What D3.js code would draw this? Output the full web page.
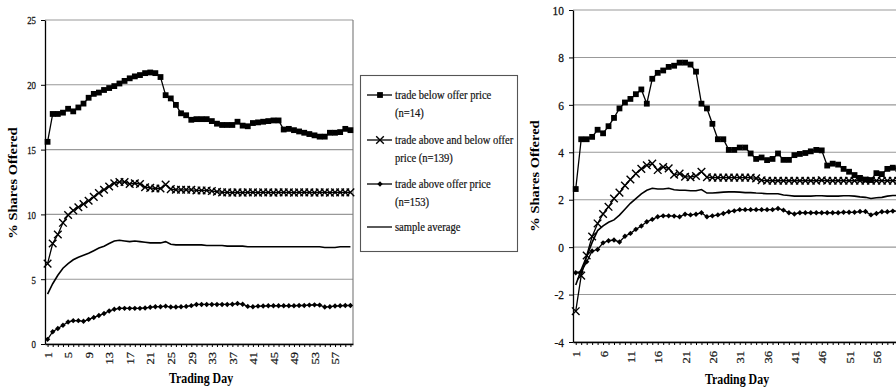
<!DOCTYPE html>
<html><head><meta charset="utf-8">
<script src="https://cdn.jsdelivr.net/npm/d3@7"></script>
<style>
html,body{margin:0;padding:0;background:#fff;}
svg{display:block;font-family:"Liberation Serif","Times New Roman",serif;}
</style></head><body>
<svg id="c" width="896" height="389"></svg>
<script>
const days = [1,2,3,4,5,6,7,8,9,10,11,12,13,14,15,16,17,18,19,20,21,22,23,24,25,26,27,28,29,30,
  31,32,33,34,35,36,37,38,39,40,41,42,43,44,45,46,47,48,49,50,51,52,53,54,55,56,57,58,59,60];
const leftXTicks = [1,5,9,13,17,21,25,29,33,37,41,45,49,53,57];
const rightXTicks = [1,6,11,16,21,26,31,36,41,46,51,56];
const leftYTicks = [0,5,10,15,20,25];
const rightYTicks = [-4,-2,0,2,4,6,8,10];

const leftBelow = [15.6,17.75,17.75,17.85,18.15,17.95,18.25,18.55,19.0,19.3,
  19.4,19.6,19.75,19.9,20.1,20.3,20.5,20.65,20.75,20.9,
  20.95,20.9,20.6,19.2,18.95,18.45,17.8,17.65,17.3,17.35,
  17.35,17.35,17.2,17.0,16.9,16.9,16.9,17.15,16.85,16.8,
  17.05,17.1,17.15,17.2,17.25,17.25,16.55,16.6,16.5,16.4,
  16.3,16.2,16.1,16.0,16.0,16.3,16.3,16.35,16.6,16.5];
const leftBoth = [6.2,7.75,8.45,9.35,9.95,10.3,10.55,10.8,11.05,11.35,
  11.65,11.9,12.15,12.4,12.5,12.5,12.35,12.4,12.35,12.1,
  12.05,12.0,12.0,12.3,11.95,11.9,11.9,11.9,11.9,11.85,
  11.85,11.85,11.8,11.75,11.7,11.7,11.68,11.7,11.68,11.7,
  11.7,11.68,11.7,11.7,11.68,11.7,11.7,11.7,11.68,11.7,
  11.7,11.7,11.68,11.7,11.7,11.68,11.7,11.7,11.7,11.7];
const leftAbove = [0.36,0.95,1.2,1.45,1.7,1.8,1.8,1.75,1.9,2.05,
  2.2,2.35,2.55,2.68,2.75,2.75,2.75,2.75,2.75,2.78,
  2.83,2.88,2.88,2.92,2.85,2.85,2.88,2.9,2.96,3.05,
  3.05,3.05,3.05,3.05,3.05,3.05,3.07,3.12,3.07,2.9,
  2.88,2.92,2.93,2.95,2.95,2.95,2.95,2.95,2.95,2.97,
  2.97,3.0,3.02,3.0,2.85,2.88,2.93,2.95,2.97,2.97];
const leftAvg = [3.85,4.65,5.3,5.85,6.2,6.5,6.7,6.85,7.0,7.2,
  7.4,7.55,7.75,7.95,8.0,7.95,7.9,7.95,7.9,7.85,
  7.8,7.8,7.8,7.9,7.7,7.65,7.65,7.65,7.65,7.65,
  7.65,7.6,7.6,7.6,7.6,7.55,7.55,7.55,7.55,7.5,
  7.5,7.5,7.5,7.5,7.5,7.5,7.5,7.5,7.5,7.5,
  7.5,7.5,7.5,7.5,7.45,7.45,7.45,7.5,7.5,7.5];

const rightBelow = [2.45,4.55,4.55,4.65,4.95,4.8,5.1,5.45,5.85,6.1,
  6.25,6.45,6.65,6.05,7.1,7.35,7.45,7.6,7.65,7.78,
  7.78,7.7,7.4,6.05,5.85,5.2,4.55,4.55,4.1,4.1,
  4.2,4.2,3.95,3.72,3.78,3.67,3.72,3.95,3.68,3.68,
  3.88,3.93,3.97,4.04,4.1,4.08,3.44,3.52,3.48,3.3,
  3.18,3.04,2.92,2.85,2.83,3.12,3.08,3.3,3.35,3.3];
const rightBoth = [-2.7,-1.2,-0.35,0.45,1.0,1.4,1.7,2.05,2.3,2.6,
  2.85,3.1,3.3,3.45,3.52,3.25,3.38,3.32,3.05,3.1,
  2.97,2.95,3.0,3.18,2.95,2.93,2.93,2.93,2.93,2.93,
  2.93,2.93,2.93,2.9,2.82,2.8,2.8,2.8,2.8,2.8,
  2.8,2.8,2.8,2.8,2.8,2.82,2.8,2.8,2.8,2.8,
  2.8,2.8,2.8,2.8,2.8,2.8,2.8,2.8,2.8,2.8];
const rightAbove = [-1.08,-1.04,-0.62,-0.16,-0.1,0.18,0.27,0.3,0.22,0.46,
  0.58,0.75,0.89,1.07,1.17,1.28,1.32,1.32,1.31,1.28,
  1.39,1.36,1.39,1.45,1.28,1.32,1.36,1.42,1.49,1.53,
  1.58,1.58,1.58,1.58,1.58,1.58,1.58,1.63,1.56,1.45,
  1.4,1.45,1.45,1.45,1.45,1.45,1.45,1.45,1.45,1.47,
  1.47,1.47,1.5,1.5,1.36,1.42,1.49,1.49,1.52,1.52];
const rightAvg = [-1.6,-0.95,-0.4,0.2,0.7,0.9,1.05,1.15,1.35,1.6,
  1.85,2.05,2.25,2.4,2.48,2.45,2.45,2.48,2.42,2.4,
  2.4,2.38,2.38,2.43,2.28,2.28,2.3,2.32,2.33,2.33,
  2.32,2.3,2.3,2.28,2.27,2.25,2.25,2.25,2.2,2.18,
  2.15,2.15,2.15,2.15,2.17,2.17,2.15,2.15,2.15,2.17,
  2.17,2.15,2.12,2.1,2.05,2.08,2.1,2.15,2.18,2.18];

const legendLines = [
  ["trade below offer price", "(n=14)"],
  ["trade above and below offer", "price (n=139)"],
  ["trade above offer price", "(n=153)"],
  ["sample average"]
];
const markerTypes = ["square", "cross", "diamond", "none"];
const yTitle = "% Shares Offered";
const xTitle = "Trading Day";

const svg = d3.select("#c");
svg.append("rect").attr("width", 896).attr("height", 389).attr("fill", "#fff");

function marker(g, type, cx, cy) {
  if (type === "square") {
    g.append("rect").attr("x", cx - 2.9).attr("y", cy - 2.9).attr("width", 5.8).attr("height", 5.8).attr("fill", "#000");
  } else if (type === "cross") {
    g.append("path").attr("d", `M${cx-3.8},${cy-3.8}L${cx+3.8},${cy+3.8}M${cx-3.8},${cy+3.8}L${cx+3.8},${cy-3.8}`)
      .attr("stroke", "#000").attr("stroke-width", 1.4).attr("fill", "none");
  } else if (type === "diamond") {
    g.append("path").attr("d", `M${cx},${cy-2.7}L${cx+2.7},${cy}L${cx},${cy+2.7}L${cx-2.7},${cy}Z`).attr("fill", "#000");
  }
}

function panel(cfg) {
  const g = svg.append("g");
  const x = d3.scalePoint().domain(days).range([cfg.x0, cfg.x1]).padding(0.5);
  const y = d3.scaleLinear().domain(cfg.yDomain).range([cfg.yBottom, cfg.yTop]);

  g.selectAll("line.grid").data(cfg.yTicks).join("line").attr("class", "grid")
    .attr("x1", cfg.x0).attr("x2", cfg.x1)
    .attr("y1", d => y(d)).attr("y2", d => y(d))
    .attr("stroke", "#999").attr("stroke-width", 1.1);
  g.append("line").attr("x1", cfg.x1).attr("x2", cfg.x1).attr("y1", cfg.yTop).attr("y2", cfg.yBottom)
    .attr("stroke", "#777").attr("stroke-width", 1.1);

  const ya = g.append("g").attr("transform", `translate(${cfg.x0},0)`)
    .call(d3.axisLeft(y).tickValues(cfg.yTicks).tickSize(4).tickSizeOuter(0).tickFormat(d => String(d)));
  ya.select(".domain").attr("stroke", "#000").attr("stroke-width", 1.3);
  ya.selectAll(".tick line").attr("stroke", "#000");
  ya.selectAll(".tick text")
    .attr("x", 0).attr("dy", "0.35em")
    .attr("transform", `translate(${-cfg.yLabGap},0) scale(${cfg.ySx},1)`)
    .style("font-size", cfg.yFont + "px").style("font-family", "'Liberation Serif',serif")
    .attr("fill", "#111").attr("stroke", "#111").attr("stroke-width", 0.25);

  const xa = g.append("g").attr("transform", `translate(0,${cfg.yBottom})`)
    .call(d3.axisBottom(x).tickValues(days).tickSize(3).tickSizeOuter(0)
      .tickFormat(d => cfg.xTicks.includes(d) ? String(d) : ""));
  xa.select(".domain").attr("stroke", "#000").attr("stroke-width", 1.3);
  xa.selectAll(".tick line").attr("stroke", "#000");
  xa.selectAll(".tick text")
    .attr("x", 0).attr("y", 0)
    .attr("transform", `translate(0,${cfg.xLabGap}) scale(${cfg.xSx},1) rotate(-90)`)
    .attr("dy", "0.35em")
    .style("text-anchor", "end")
    .style("font-size", cfg.xFont + "px").style("font-family", "'Liberation Serif',serif")
    .attr("fill", "#111").attr("stroke", "#111").attr("stroke-width", 0.25);

  const series = [
    { v: cfg.below, m: "square" },
    { v: cfg.both, m: "cross" },
    { v: cfg.above, m: "diamond" },
    { v: cfg.avg, m: "none" }
  ];
  const line = d3.line().x((d, i) => x(days[i])).y(d => y(d));
  series.forEach(s => {
    g.append("path").attr("d", line(s.v)).attr("fill", "none").attr("stroke", "#000")
      .attr("stroke-width", s.m === "none" ? 1.6 : 1.3);
    const mg = g.append("g");
    s.v.forEach((v, i) => marker(mg, s.m, x(days[i]), y(v)));
  });

  g.append("text").attr("transform", `translate(${cfg.xTitleX},${cfg.xTitleY}) scale(0.82,1)`)
    .attr("text-anchor", "middle").style("font-weight", "bold").style("font-size", "14.5px")
    .text(xTitle);
  g.append("text").attr("transform", `translate(${cfg.yTitleX},${cfg.yTitleY}) scale(0.82,1) rotate(-90)`)
    .attr("text-anchor", "middle").attr("dy", "0.35em").style("font-weight", "bold").style("font-size", "14.5px")
    .text(yTitle);
}

panel({
  x0: 45, x1: 353, yTop: 20, yBottom: 344, yDomain: [0, 25], yTicks: leftYTicks, xTicks: leftXTicks,
  below: leftBelow, both: leftBoth, above: leftAbove, avg: leftAvg,
  yLabGap: 9, ySx: 0.8, yFont: 11, xLabGap: 8, xSx: 0.85, xFont: 12.5,
  xTitleX: 201, xTitleY: 383, yTitleX: 13, yTitleY: 183
});
panel({
  x0: 573, x1: 901, yTop: 10, yBottom: 342, yDomain: [-4, 10], yTicks: rightYTicks, xTicks: rightXTicks,
  below: rightBelow, both: rightBoth, above: rightAbove, avg: rightAvg,
  yLabGap: 9, ySx: 0.95, yFont: 12, xLabGap: 9, xSx: 0.9, xFont: 12.5,
  xTitleX: 737, xTitleY: 384, yTitleX: 535, yTitleY: 176
});

// legend
const lg = svg.append("g");
lg.append("rect").attr("x", 360.5).attr("y", 75.5).attr("width", 157).attr("height", 176)
  .attr("fill", "#fff").attr("stroke", "#555").attr("stroke-width", 1.1);
const entryY = [95, 140, 184, 227];
legendLines.forEach((lines, i) => {
  const yy = entryY[i];
  lg.append("line").attr("x1", 367).attr("x2", 392).attr("y1", yy).attr("y2", yy)
    .attr("stroke", "#000").attr("stroke-width", 1.3);
  marker(lg, markerTypes[i], 380, yy);
  lines.forEach((t, j) => {
    lg.append("text").attr("transform", `translate(395,${yy + j * 18}) scale(0.92,1)`)
      .attr("dy", "0.35em").style("font-size", "11.5px").attr("fill", "#111")
      .attr("stroke", "#111").attr("stroke-width", 0.2).text(t);
  });
});
</script>
</body></html>
